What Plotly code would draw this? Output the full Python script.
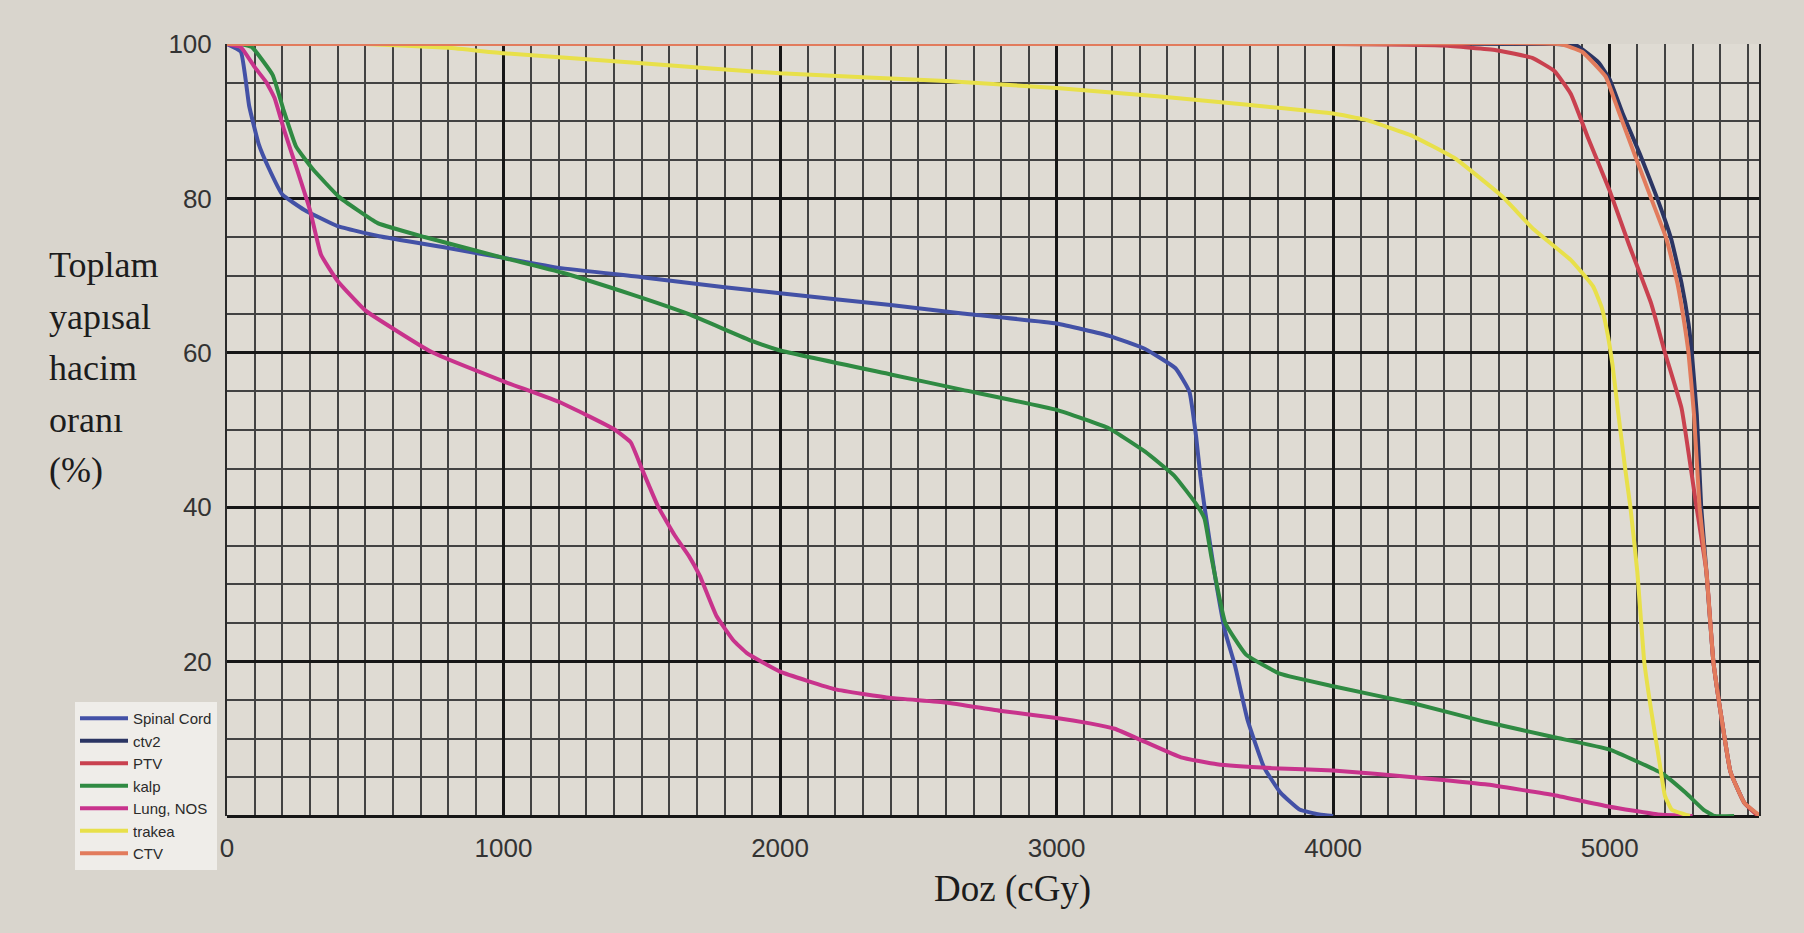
import plotly.graph_objects as go

# ---------------- data ----------------
spinal_x = [0, 50, 80, 115, 150, 200, 280, 400, 550, 780, 1000, 1200, 1500, 1800, 2000, 2400, 2660, 3000,
            3190, 3320, 3430, 3480, 3505, 3520, 3535, 3575, 3610, 3645, 3690, 3750, 3810, 3880, 3950, 4000]
spinal_y = [100, 99, 92, 87, 84, 80.5, 78.5, 76.4, 75.1, 73.7, 72.3, 71, 69.8, 68.5, 67.7, 66.2, 65.1, 63.8,
            62.2, 60.5, 58, 55, 49, 44, 40, 30.6, 23.8, 19.5, 12.5, 6.3, 3, 0.8, 0.2, 0]

ctv2_x = [0, 4000, 4800, 4880, 4960, 5000, 5047, 5110, 5172, 5222, 5260, 5285, 5297, 5315, 5331, 5350,
          5375, 5400, 5437, 5487, 5540]
ctv2_y = [100, 100, 100, 99.8, 97.6, 95.4, 91, 85.7, 80, 74.8, 69, 63.8, 60, 52, 40, 31.6,
          20, 13.7, 5.7, 1.7, 0]

ptv_x = [0, 1000, 2000, 3000, 4000, 4400, 4590, 4720, 4800, 4860, 4920, 5000, 5070, 5150, 5200, 5260,
         5312, 5350, 5375, 5400, 5437, 5487, 5537]
ptv_y = [100, 100, 100, 100, 100, 99.8, 99.2, 98.2, 96.5, 93.5, 88, 81, 74, 66.4, 60, 52.8,
         40.5, 31.6, 20, 13.7, 5.7, 1.7, 0]

kalp_x = [0, 50, 90, 165, 205, 250, 310, 405, 545, 714, 1000, 1210, 1460, 1670, 1900, 2000, 2400, 2660,
          3000, 3190, 3320, 3425, 3505, 3535, 3560, 3610, 3685, 3810, 4000, 4300, 4550, 4800, 5000,
          5190, 5275, 5340, 5380, 5450]
kalp_y = [100, 100, 99.6, 96, 91.4, 86.7, 83.8, 80.2, 76.8, 75, 72.3, 70.4, 67.6, 65, 61.5, 60.3, 57.2, 55.2,
          52.6, 50.2, 47.2, 44.1, 40.4, 38.5, 33.5, 25, 20.9, 18.4, 16.8, 14.5, 12.2, 10.2, 8.6,
          5.5, 3, 0.8, 0, 0]

lung_x = [0, 50, 100, 143, 172, 207, 253, 300, 340, 400, 500, 740, 1000, 1210, 1400, 1460, 1500, 1560,
          1620, 1670, 1710, 1770, 1830, 1880, 2000, 2200, 2400, 2600, 2800, 3000, 3120, 3210, 3320,
          3450, 3580, 3780, 4000, 4300, 4550, 4800, 5000, 5175, 5300]
lung_y = [100, 99.6, 97, 95, 93, 88.8, 83.8, 78.5, 72.7, 69.3, 65.5, 60.1, 56.3, 53.5, 50.1, 48.4, 45, 40,
          36.3, 33.7, 31.1, 25.9, 22.8, 21.1, 18.7, 16.4, 15.3, 14.7, 13.6, 12.7, 12, 11.3, 9.6,
          7.6, 6.7, 6.2, 5.9, 5, 4.1, 2.7, 1.2, 0.2, 0]

trakea_x = [0, 500, 800, 1000, 1500, 2000, 2600, 3000, 3375, 3700, 4000, 4115, 4280, 4440, 4610,
            4725, 4860, 4940, 4970, 4990, 5010, 5030, 5056, 5075, 5100, 5125, 5150, 5180, 5200, 5225, 5290]
trakea_y = [100, 100, 99.5, 98.8, 97.5, 96.2, 95.2, 94.3, 93.2, 92.1, 91, 90.2, 88.2, 85.2, 80.3,
            76, 72, 68.6, 66, 62.9, 58.5, 52.5, 45, 40, 31.6, 20, 13.7, 7, 2.6, 0.8, 0]

ctv_x = [0, 4000, 4820, 4900, 4985, 5030, 5090, 5150, 5205, 5245, 5270, 5285, 5305, 5325, 5350, 5375,
         5400, 5437, 5487, 5545]
ctv_y = [100, 100, 100, 99, 95.8, 91.5, 85.7, 80, 74.8, 69, 63.8, 60, 52, 40, 31.6, 20,
         13.7, 5.7, 1.7, 0]

series_names = ["Spinal Cord", "ctv2", "PTV", "kalp", "Lung, NOS", "trakea", "CTV"]
x_ticks = [0, 1000, 2000, 3000, 4000, 5000]
y_ticks = [0, 20, 40, 60, 80, 100]
y_tick_text = ["", "20", "40", "60", "80", "100"]   # the 0 label is hidden under the legend
y_title_lines = ["Toplam", "yapısal", "hacim", "oranı", "(%)"]
x_title = "Doz (cGy)"

# ---------------- styling ----------------
colors = ["#4351a6", "#2b3563", "#c9414f", "#2f8a42", "#c8338c", "#e8e04a", "#e27b5c"]
xs = [spinal_x, ctv2_x, ptv_x, kalp_x, lung_x, trakea_x, ctv_x]
ys = [spinal_y, ctv2_y, ptv_y, kalp_y, lung_y, trakea_y, ctv_y]

W, H = 1804, 933
ML, MR, MT, MB = 227, 45, 44, 117
PW, PH = W - ML - MR, H - MT - MB

fig = go.Figure()
for name, x, y, c in zip(series_names, xs, ys, colors):
    fig.add_trace(go.Scatter(x=x, y=y, name=name, mode="lines",
                             line=dict(color=c, width=4, shape="spline", smoothing=0.35)))

paper_bg = "#d9d5cd"
plot_bg = "#dfdbd3"

fig.update_layout(
    width=W, height=H,
    margin=dict(l=ML, r=MR, t=MT, b=MB),
    paper_bgcolor=paper_bg, plot_bgcolor=plot_bg,
    showlegend=True,
    legend=dict(
        x=(75 - ML) / PW, y=(H - MB - 702) / PH, xanchor="left", yanchor="top",
        bgcolor="#efede9", borderwidth=0,
        font=dict(family="Liberation Sans", size=15, color="#2a2a2a"),
        itemwidth=48, tracegroupgap=0,
        entrywidth=140, entrywidthmode="pixels",
    ),
    xaxis=dict(
        range=[0, 5540], tickvals=x_ticks, tickformat="d",
        showgrid=True, gridcolor="#161616", gridwidth=3,
        zeroline=True, zerolinecolor="#161616", zerolinewidth=3,
        minor=dict(dtick=100, showgrid=True, gridcolor="#424242", gridwidth=1.5),
        ticks="", ticklabelstandoff=14,
        tickfont=dict(family="Liberation Sans", size=26, color="#333333"),
        showline=False,
    ),
    yaxis=dict(
        range=[0, 100], tickvals=y_ticks, ticktext=y_tick_text,
        showgrid=True, gridcolor="#161616", gridwidth=3,
        zeroline=True, zerolinecolor="#161616", zerolinewidth=3,
        minor=dict(dtick=5, showgrid=True, gridcolor="#424242", gridwidth=1.5),
        ticks="", ticklabelstandoff=8,
        tickfont=dict(family="Liberation Sans", size=26, color="#333333"),
        showline=True, mirror=True, linecolor="#2a2a2a", linewidth=2,
    ),
)

# y-axis title, one line per annotation (original spacing)
line_centers = [265, 317, 368, 420, 470]
for txt, py in zip(y_title_lines, line_centers):
    fig.add_annotation(text=txt, xref="paper", yref="paper",
                       x=(47 - ML) / PW, y=(H - MB - py) / PH,
                       xanchor="left", yanchor="middle", showarrow=False,
                       font=dict(family="Liberation Serif", size=36, color="#1c1c1c"))

fig.add_annotation(text=x_title, xref="paper", yref="paper",
                   x=(1012 - ML) / PW, y=(H - MB - 889) / PH,
                   xanchor="center", yanchor="middle", showarrow=False,
                   font=dict(family="Liberation Serif", size=37, color="#1c1c1c"))

fig.write_html("out.html")
